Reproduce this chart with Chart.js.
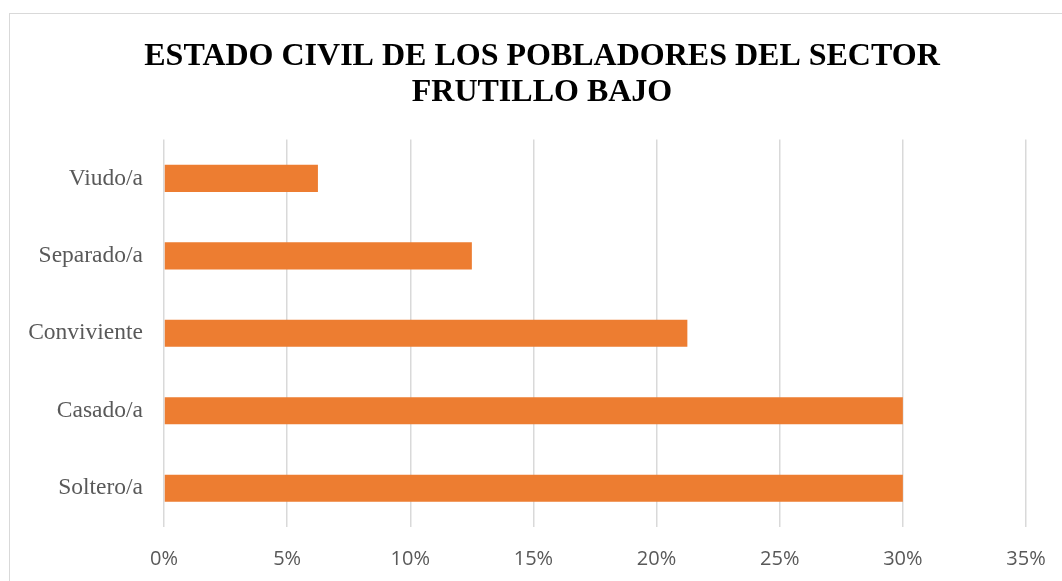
<!DOCTYPE html>
<html>
<head>
<meta charset="utf-8">
<script src="https://cdn.jsdelivr.net/npm/chart.js@4"></script>
<style>
  html, body { margin: 0; padding: 0; overflow: hidden; background: #fff; }
  #frame {
    position: absolute; left: 9px; top: 13px; width: 1100px; height: 620px;
    border: 1px solid #d9d9d9; pointer-events: none;
  }
  #estadoChart { position: absolute; left: 0; top: 0; }
</style>
</head>
<body>
<div id="frame"></div>
<canvas id="estadoChart" width="1084" height="581"></canvas>
<script>
// categories (top to bottom) and percentages
const categorias = ['Viudo/a', 'Separado/a', 'Conviviente', 'Casado/a', 'Soltero/a'];
const porcentajes = [6.25, 12.5, 21.25, 30, 30];
const tituloLineas = ['ESTADO CIVIL DE LOS POBLADORES DEL SECTOR', 'FRUTILLO BAJO'];

document.addEventListener('DOMContentLoaded', () => {
  const ctx = document.getElementById('estadoChart').getContext('2d');

  // title should be centred on the whole frame, not on the area left of the right padding
  const centrarTitulo = {
    id: 'centrarTitulo',
    afterLayout(chart) {
      if (chart.titleBlock) chart.titleBlock.left += 58;
    }
  };

  new Chart(ctx, {
    type: 'bar',
    data: {
      labels: categorias,
      datasets: [{
        data: porcentajes,
        backgroundColor: '#ED7D31',
        borderWidth: 0,
        categoryPercentage: 1,
        barPercentage: 0.35
      }]
    },
    options: {
      indexAxis: 'y',
      responsive: false,
      animation: false,
      layout: { padding: { left: 0, right: 58, top: 0, bottom: 0 } },
      plugins: {
        legend: { display: false },
        tooltip: { enabled: false },
        title: {
          display: true,
          text: tituloLineas,
          color: '#000',
          font: { family: '"Liberation Serif", "Times New Roman", serif', size: 32, weight: 'bold', lineHeight: 1.15 },
          padding: { top: 38, bottom: 28 }
        }
      },
      scales: {
        x: {
          min: 0,
          max: 35,
          ticks: {
            stepSize: 5,
            padding: 20,
            color: '#595959',
            font: { family: '"Open Sans", "Liberation Sans", sans-serif', size: 20 },
            callback: v => v + '%'
          },
          grid: { color: '#d9d9d9', lineWidth: 1.5, drawTicks: false },
          border: { display: false },
          afterFit: scale => { scale.height = 54; }
        },
        y: {
          ticks: {
            padding: 21,
            color: '#595959',
            font: { family: '"Liberation Serif", "Times New Roman", serif', size: 23.5 }
          },
          grid: { display: false, drawTicks: false },
          border: { display: false },
          afterFit: scale => { scale.width = 164; }
        }
      }
    },
    plugins: [centrarTitulo]
  });
});
</script>
</body>
</html>
